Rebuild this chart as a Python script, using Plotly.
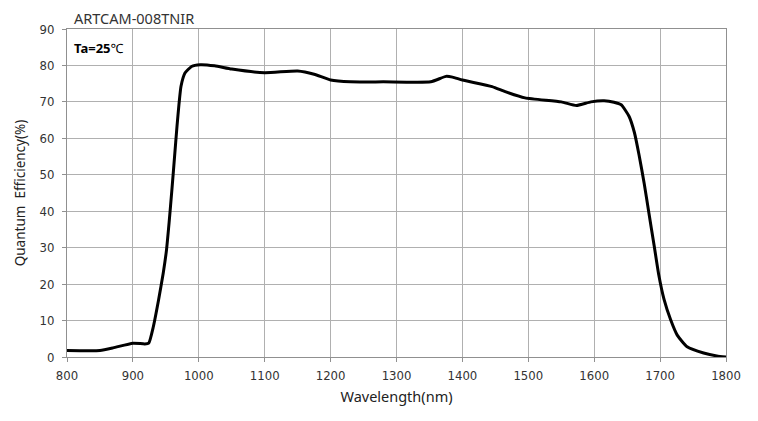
import plotly.graph_objects as go

wavelength = [800, 850, 870, 900, 918, 924, 931, 939, 946, 951, 955, 959, 963, 967, 970, 973, 979, 989, 1002, 1024,
              1050, 1100, 1150, 1175, 1200, 1230, 1280, 1352, 1375, 1385, 1400, 1445,
              1465, 1495, 1550, 1573, 1595, 1615, 1630, 1641, 1653, 1661, 1668, 1676, 1683, 1691, 1698,
              1706, 1716, 1726, 1741, 1766, 1786, 1800]
efficiency = [1.8, 1.8, 2.5, 3.8, 3.6, 3.8, 8.3, 15.7, 23, 29.4, 37, 45.5, 54.5, 63.5, 69.5, 74.3, 77.9, 79.7, 80.2, 79.9,
              79, 78, 78.5, 77.6, 76, 75.5, 75.5, 75.5, 77, 76.8, 76, 74.2,
              72.8, 71.1, 70, 69, 70, 70.3, 69.9, 69.2, 66, 61.6, 55.5, 47.5, 39.5, 30.5, 22.5,
              15.8, 10.2, 6, 2.8, 1.1, 0.3, 0]

x_ticks = [800, 900, 1000, 1100, 1200, 1300, 1400, 1500, 1600, 1700, 1800]
y_ticks = [0, 10, 20, 30, 40, 50, 60, 70, 80, 90]

tick_font = dict(family="Liberation Sans Narrow, DejaVu Sans Condensed, Arial Narrow, sans-serif",
                 size=13, color="#333333")

W, H = 750, 413
L, R, T, B = 53, 32, 21, 64
pw, ph = W - L - R, H - T - B

fig = go.Figure()
fig.add_trace(go.Scatter(x=wavelength, y=efficiency, mode="lines",
                         line=dict(color="black", width=3, shape="spline", smoothing=0.5),
                         hoverinfo="skip", showlegend=False))

fig.update_layout(
    width=W, height=H,
    margin=dict(l=L, r=R, t=T, b=B),
    paper_bgcolor="white", plot_bgcolor="white",
    font=dict(family="Noto Sans, Open Sans, sans-serif", color="#222222"),
    xaxis=dict(range=[800, 1800], tickvals=x_ticks, ticktext=[str(v) for v in x_ticks],
               showgrid=True, gridcolor="#b0b0b0", gridwidth=1,
               showline=True, linecolor="#909090", linewidth=1, mirror=True,
               ticks="outside", ticklen=4, tickcolor="#909090",
               tickfont=tick_font, zeroline=False, ticklabelstandoff=2,
               title=dict(text="Wavelength(nm)", font=dict(size=14.5, color="#222222"), standoff=10)),
    yaxis=dict(range=[0, 90], tickvals=y_ticks, ticktext=[str(v) for v in y_ticks],
               showgrid=True, gridcolor="#b0b0b0", gridwidth=1,
               showline=True, linecolor="#909090", linewidth=1, mirror=True,
               ticks="outside", ticklen=4, tickcolor="#909090",
               tickfont=tick_font, zeroline=False, ticklabelstandoff=5,
               title=dict(text="Quantum  Efficiency(%)", font=dict(size=13.5, color="#222222"), standoff=10)),
    annotations=[
        dict(text="ARTCAM-008TNIR", x=(58 - L) / pw, y=1 + (T - 10) / ph, xref="paper", yref="paper",
             showarrow=False, xanchor="left", yanchor="middle",
             font=dict(size=14.5, color="#333333")),
        dict(text="<b>Ta=25</b>℃", x=(58 - L) / pw, y=1 - (40 - T) / ph, xref="paper", yref="paper",
             showarrow=False, xanchor="left", yanchor="middle", font=dict(size=13, color="black")),
    ],
)

fig.write_html("out.html")
